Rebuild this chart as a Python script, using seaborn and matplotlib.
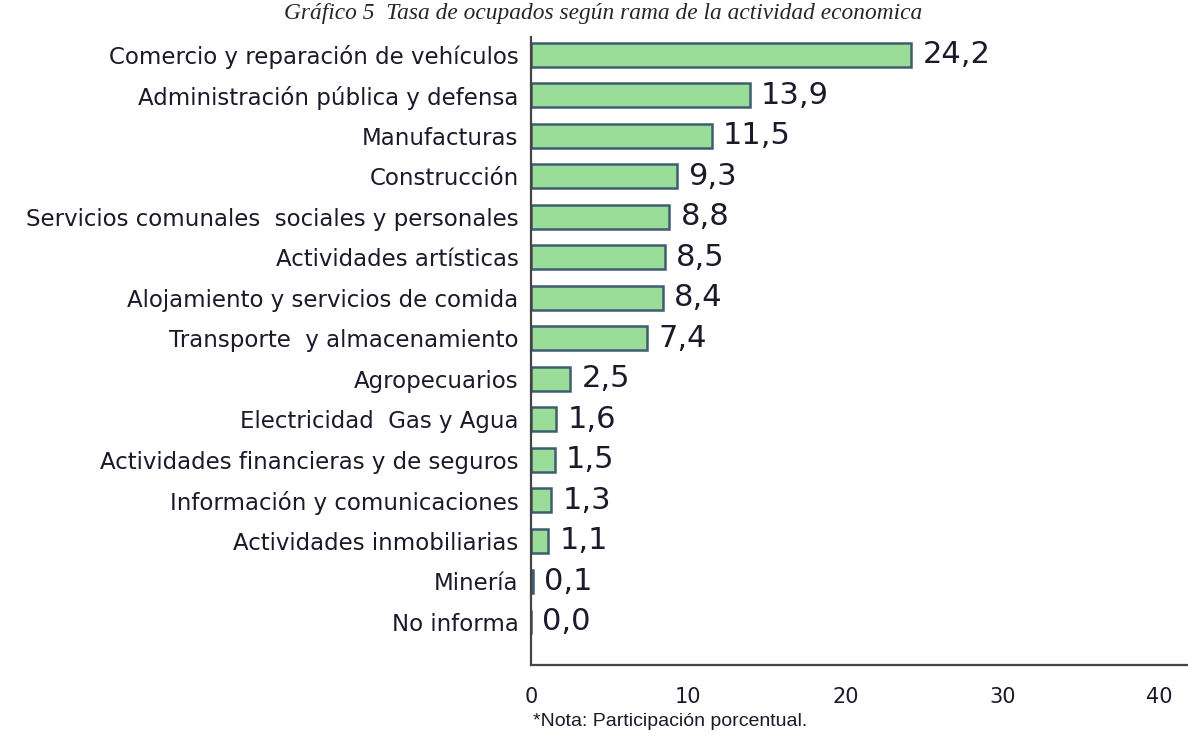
import pandas as pd
import seaborn as sns
import matplotlib.pyplot as plt

categorias = [
    "Comercio y reparación de vehículos",
    "Administración pública y defensa",
    "Manufacturas",
    "Construcción",
    "Servicios comunales  sociales y personales",
    "Actividades artísticas",
    "Alojamiento y servicios de comida",
    "Transporte  y almacenamiento",
    "Agropecuarios",
    "Electricidad  Gas y Agua",
    "Actividades financieras y de seguros",
    "Información y comunicaciones",
    "Actividades inmobiliarias",
    "Minería",
    "No informa",
]
valores = [24.2, 13.9, 11.5, 9.3, 8.8, 8.5, 8.4, 7.4, 2.5, 1.6, 1.5, 1.3, 1.1, 0.1, 0.0]
ticks_x = [0, 10, 20, 30, 40]

df = pd.DataFrame({"rama": categorias, "tasa": valores})

sns.set_style("white")
plt.rcParams["font.family"] = ["DejaVu Sans"]

fig = plt.figure(figsize=(11.88, 7.38), dpi=100)
ax = fig.add_axes([0.447, 0.099, 0.553, 0.851])

sns.barplot(data=df, x="tasa", y="rama", orient="h", color="#99dd99",
            edgecolor="#3f5d70", linewidth=1.8, width=0.59, saturation=1, ax=ax)

for i, v in enumerate(valores):
    ax.annotate(f"{v:.1f}".replace(".", ","), xy=(v, i), xytext=(8, 0),
                textcoords="offset points", va="center", ha="left",
                fontsize=22, color="#1a1a2a")

ax.set_xlim(0, 41.8)
ax.set_ylim(15.06, -0.44)
ax.set_xticks(ticks_x)
ax.set_xlabel("")
ax.set_ylabel("")
ax.tick_params(axis="y", length=0, labelsize=16.5, pad=9, labelcolor="#1a1a2a")
ax.tick_params(axis="x", length=7, width=1.6, direction="out", labelsize=15, pad=9,
               labelcolor="#1a1a2a", color="#444444")
for s in ["top", "right"]:
    ax.spines[s].set_visible(False)
for s in ["left", "bottom"]:
    ax.spines[s].set_color("#444444")
    ax.spines[s].set_linewidth(1.6)

fig.text(0.508, 0.982, "Gráfico 5  Tasa de ocupados según rama de la actividad economica",
         ha="center", va="center", fontsize=16.8, style="italic",
         family=["Liberation Serif", "DejaVu Serif"])
fig.text(0.449, 0.022, "*Nota: Participación porcentual.", ha="left", va="center",
         fontsize=14, color="#1a1a2a", family=["Liberation Sans", "DejaVu Sans"])

fig.savefig("out.png", dpi=100)
